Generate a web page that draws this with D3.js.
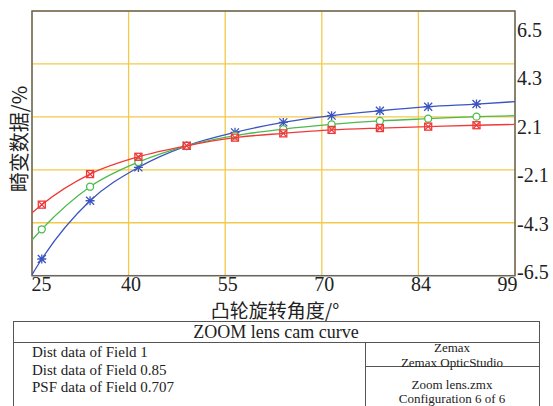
<!DOCTYPE html>
<html>
<head>
<meta charset="utf-8">
<script src="https://cdn.jsdelivr.net/npm/d3@7"></script>
<style>
  html, body { margin: 0; padding: 0; background: #fff; }
  svg { display: block; }
  .tick text { font-family: "Liberation Serif", "DejaVu Serif", serif; fill: #222; }
  .tbl { font-family: "Liberation Serif", "DejaVu Serif", serif; fill: #222; }
</style>
</head>
<body>
<div id="chart"></div>
<script>
// cam angle positions (first and last are the plot edges, the rest carry markers)
const angles = [25, 26.5, 33.9, 41.3, 48.7, 56.1, 63.5, 70.9, 78.3, 85.7, 93.1, 99];
const field1 = [-6.45, -5.68, -2.82, -1.18, -0.12, 0.54, 1.03, 1.36, 1.60, 1.80, 1.93, 2.05];
const field085 = [-4.75, -4.22, -2.13, -0.92, -0.12, 0.38, 0.70, 0.93, 1.10, 1.21, 1.31, 1.36];
const field0707 = [-3.41, -3.01, -1.51, -0.66, -0.12, 0.28, 0.49, 0.66, 0.75, 0.82, 0.89, 0.93];

// axis ticks
const xTicks = [25, 39.8, 54.6, 69.4, 84.2, 99];
const xLabels = ['25', '40', '55', '70', '84', '99'];
const yGrid = [-6.5, -3.9, -1.3, 1.3, 3.9, 6.5];
const yLabels = ['6.5', '4.3', '2.1', '-2.1', '-4.3', '-6.5'];

const legendLines = ['Dist data of Field 1', 'Dist data of Field 0.85', 'PSF data of Field 0.707'];
const infoLines = ['Zemax', 'Zemax OpticStudio', 'Zoom lens.zmx', 'Configuration 6 of 6'];

const width = 553, height = 406;
const plot = { left: 32, top: 11, right: 515, bottom: 275.7 };

const svg = d3.select('#chart').append('svg')
    .attr('width', width)
    .attr('height', height);

const x = d3.scaleLinear().domain([25, 99]).range([plot.left, plot.right]);
const y = d3.scaleLinear().domain([-6.5, 6.5]).range([plot.bottom, plot.top]);
// the right-hand labels sit on their own spacing, not on the grid
const yLab = d3.scalePoint().domain(yLabels).range([30, 272]);

// grid
const gridColor = '#f3c94a';
svg.append('g')
    .selectAll('line.vg')
    .data(xTicks)
    .join('line')
    .attr('x1', d => x(d)).attr('x2', d => x(d))
    .attr('y1', plot.top).attr('y2', plot.bottom)
    .attr('stroke', gridColor).attr('stroke-width', 1.3);
svg.append('g')
    .selectAll('line.hg')
    .data(yGrid)
    .join('line')
    .attr('x1', plot.left).attr('x2', plot.right)
    .attr('y1', d => y(d)).attr('y2', d => y(d))
    .attr('stroke', gridColor).attr('stroke-width', 1.3);

// x axis labels
const xAxis = svg.append('g')
    .attr('transform', `translate(0,${plot.bottom})`)
    .call(d3.axisBottom(x).tickValues(xTicks).tickSize(0).tickPadding(1)
        .tickFormat((d, i) => xLabels[i]));
xAxis.select('.domain').remove();
xAxis.selectAll('text')
    .style('font-size', '20px')
    .attr('text-anchor', (d, i) => i === 0 ? 'start' : (i === xTicks.length - 1 ? 'end' : 'middle'))
    .attr('dx', (d, i) => i === 0 ? '-1' : '2');

// y axis labels on the right
const yAxis = svg.append('g')
    .attr('transform', `translate(${plot.right},0)`)
    .call(d3.axisRight(yLab).tickSize(0).tickPadding(2));
yAxis.select('.domain').remove();
yAxis.selectAll('text').style('font-size', '20px');

// frame
svg.append('rect')
    .attr('x', plot.left).attr('y', plot.top)
    .attr('width', plot.right - plot.left)
    .attr('height', plot.bottom - plot.top)
    .attr('fill', 'none')
    .attr('stroke', '#666')
    .attr('stroke-width', 1.5);

// axis titles
svg.append('text')
    .attr('x', 275).attr('y', 318)
    .attr('text-anchor', 'middle')
    .style('font-family', '"Noto Sans CJK SC", sans-serif')
    .style('font-size', '19px')
    .attr('fill', '#222')
    .text('凸轮旋转角度/°');

svg.append('text')
    .attr('transform', 'translate(27,139) rotate(-90)')
    .attr('text-anchor', 'middle')
    .style('font-family', '"Noto Sans CJK SC", sans-serif')
    .style('font-size', '20px')
    .attr('fill', '#222')
    .text('畸变数据/%');

// curves
const series = [
    { values: field1, color: '#3b55c0', marker: 'star' },
    { values: field085, color: '#4cba4c', marker: 'circle' },
    { values: field0707, color: '#f03a3a', marker: 'boxx' }
];

const line = d3.line()
    .x(d => x(d[0]))
    .y(d => y(d[1]))
    .curve(d3.curveMonotoneX);

svg.append('clipPath').attr('id', 'clip')
    .append('rect')
    .attr('x', plot.left).attr('y', plot.top)
    .attr('width', plot.right - plot.left)
    .attr('height', plot.bottom - plot.top);

const curves = svg.append('g').attr('clip-path', 'url(#clip)');

series.forEach(s => {
    const pts = angles.map((a, i) => [a, s.values[i]]);
    curves.append('path')
        .datum(pts)
        .attr('d', line)
        .attr('fill', 'none')
        .attr('stroke', s.color)
        .attr('stroke-width', 1.3);

    const marks = curves.append('g')
        .selectAll('g')
        .data(pts.slice(1, -1))
        .join('g')
        .attr('transform', d => `translate(${x(d[0])},${y(d[1])})`)
        .attr('stroke', s.color)
        .attr('stroke-width', 1.3)
        .attr('fill', 'none');

    if (s.marker === 'star') {
        marks.append('path').attr('d', 'M-4,-4L4,4M-4,4L4,-4M0,-4.5L0,4.5M-4.5,0L4.5,0');
    } else if (s.marker === 'circle') {
        marks.append('circle').attr('r', 3.5).attr('fill', '#fff');
    } else {
        marks.append('rect').attr('x', -3.5).attr('y', -3.5).attr('width', 7).attr('height', 7);
        marks.append('path').attr('d', 'M-3.5,-3.5L3.5,3.5M-3.5,3.5L3.5,-3.5');
    }
});

// info table
const tbl = svg.append('g').attr('stroke', '#555').attr('stroke-width', 1).attr('fill', 'none');
tbl.append('rect').attr('x', 13.5).attr('y', 321.5).attr('width', 526).attr('height', 100);
tbl.append('line').attr('x1', 13.5).attr('x2', 539.5).attr('y1', 342.5).attr('y2', 342.5);
tbl.append('line').attr('x1', 365.5).attr('x2', 365.5).attr('y1', 342.5).attr('y2', 410);
tbl.append('line').attr('x1', 365.5).attr('x2', 539.5).attr('y1', 366.5).attr('y2', 366.5);

svg.append('text')
    .attr('class', 'tbl')
    .attr('x', 276).attr('y', 338)
    .attr('text-anchor', 'middle')
    .style('font-size', '18px')
    .text('ZOOM lens cam curve');

svg.append('g')
    .selectAll('text')
    .data(legendLines)
    .join('text')
    .attr('class', 'tbl')
    .attr('x', 32)
    .attr('y', (d, i) => 357 + i * 17.5)
    .style('font-size', '15px')
    .text(d => d);

const infoY = [352, 366.5, 388.5, 403];
svg.append('g')
    .selectAll('text')
    .data(infoLines)
    .join('text')
    .attr('class', 'tbl')
    .attr('x', 452)
    .attr('y', (d, i) => infoY[i])
    .attr('text-anchor', 'middle')
    .style('font-size', '13px')
    .text(d => d);
</script>
</body>
</html>
